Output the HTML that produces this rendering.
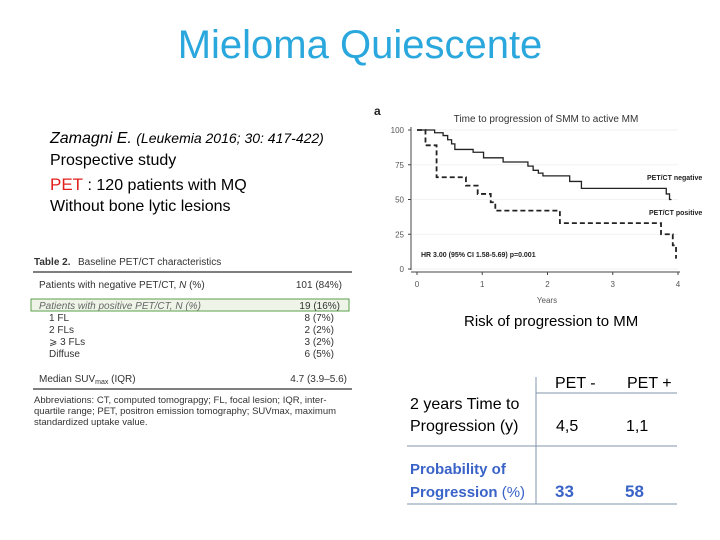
<!DOCTYPE html>
<html><head><meta charset="utf-8"><style>
body{margin:0;width:720px;height:540px;background:#fff;overflow:hidden;font-family:"Liberation Sans",sans-serif}
.a{position:absolute;white-space:nowrap}
</style></head><body>
<div style="position:relative;width:720px;height:540px">
<div class="a" style="left:0;width:720px;text-align:center;top:23px;font-size:40px;color:#2aa7dc">Mieloma Quiescente</div>
<div class="a" style="left:50px;top:130px;font-size:16px;color:#000"><i>Zamagni E.</i> <span style="font-size:14px"><i>(Leukemia 2016; 30: 417-422)</i></span></div>
<div class="a" style="left:50px;top:152px;font-size:16px">Prospective study</div>
<div class="a" style="left:50px;top:175px;font-size:16px"><span style="color:#e0201c;font-size:17px">PET</span> : 120 patients with MQ</div>
<div class="a" style="left:50px;top:198px;font-size:16px">Without bone lytic lesions</div>

<svg width="720" height="540" style="position:absolute;left:0;top:0">
 <g font-family="Liberation Sans" fill="#333">
  <text x="34" y="265" font-size="10" font-weight="bold">Table 2.</text>
  <text x="78" y="265" font-size="10">Baseline PET/CT characteristics</text>
  <line x1="33" y1="272" x2="352" y2="272" stroke="#333" stroke-width="1.3"/>
  <text x="39" y="288" font-size="10">Patients with negative PET/CT, <tspan font-style="italic">N</tspan> (%)</text>
  <text x="342" y="288" font-size="10" text-anchor="end">101 (84%)</text>
  <rect x="31" y="299" width="318" height="12" fill="#eef5e8" stroke="#5aa04a" stroke-width="1"/>
  <text x="39" y="309" font-size="10" font-style="italic" fill="#666">Patients with positive PET/CT, N (%)</text>
  <text x="340" y="309" font-size="10" text-anchor="end">19 (16%)</text>
  <text x="49" y="321" font-size="10">1 FL</text><text x="334" y="321" font-size="10" text-anchor="end">8 (7%)</text>
  <text x="49" y="333" font-size="10">2 FLs</text><text x="334" y="333" font-size="10" text-anchor="end">2 (2%)</text>
  <text x="49" y="345" font-size="10">⩾ 3 FLs</text><text x="334" y="345" font-size="10" text-anchor="end">3 (2%)</text>
  <text x="49" y="357" font-size="10">Diffuse</text><text x="334" y="357" font-size="10" text-anchor="end">6 (5%)</text>
  <text x="39" y="382" font-size="10">Median SUV<tspan font-size="7" dy="2">max</tspan><tspan dy="-2"> (IQR)</tspan></text>
  <text x="347" y="382" font-size="10" text-anchor="end">4.7 (3.9–5.6)</text>
  <line x1="33" y1="389" x2="352" y2="389" stroke="#333" stroke-width="1.3"/>
  <text x="34" y="403" font-size="9.5">Abbreviations: CT, computed tomograpgy; FL, focal lesion; IQR, inter-</text>
  <text x="34" y="414" font-size="9.5">quartile range; PET, positron emission tomography; SUVmax, maximum</text>
  <text x="34" y="425" font-size="9.5">standardized uptake value.</text>
 </g>
 <g id="km" font-family="Liberation Sans"></g>
 <g font-family="Liberation Sans" font-size="16">
  <line x1="536" y1="377" x2="536" y2="504" stroke="#7f94a8"/>
  <line x1="536" y1="393" x2="677" y2="393" stroke="#7f94a8"/>
  <line x1="407" y1="446" x2="677" y2="446" stroke="#7f94a8"/>
  <line x1="407" y1="504" x2="677" y2="504" stroke="#7f94a8"/>
  <text x="555" y="388" fill="#000">PET -</text>
  <text x="627" y="388" fill="#000">PET +</text>
  <text x="410" y="409" fill="#000">2 years Time to</text>
  <text x="410" y="431" fill="#000">Progression (y)</text>
  <text x="556" y="431" fill="#000">4,5</text>
  <text x="626" y="431" fill="#000">1,1</text>
  <text x="410" y="474" fill="#3a63c8" font-weight="bold" font-size="15">Probability of</text>
  <text x="410" y="497" fill="#3a63c8" font-size="15"><tspan font-weight="bold">Progression</tspan> (%)</text>
  <text x="555" y="497" fill="#3a63c8" font-weight="bold" font-size="17">33</text>
  <text x="625" y="497" fill="#3a63c8" font-weight="bold" font-size="17">58</text>
 </g>
</svg>
<div class="a" style="left:464px;top:313px;font-size:15px">Risk of progression to MM</div>
</div>
<script>
const negT=[0,0.27,0.4,0.47,0.53,0.58,0.86,1.02,1.32,1.7,1.78,1.86,1.93,2.34,2.52,3.82,3.87,3.9];
const negS=[100,98,96,93,90,86,84,80,77,74,71,69,67,63,58,54,50,50];
const posT=[0,0.13,0.3,0.75,0.93,1.13,1.2,2.19,3.74,3.92,3.97,3.98];
const posS=[100,89,66,60,54,48,42,33,25,17,8,8];
const yTicks=[0,25,50,75,100];
const xTicks=[0,1,2,3,4];
const NS='http://www.w3.org/2000/svg';
const g=document.getElementById('km');
const X=t=>417+t*(678-417)/4, Y=s=>269-s*(269-130)/100;
function mk(tag,at,txt){const e=document.createElementNS(NS,tag);for(const k in at)e.setAttribute(k,at[k]);if(txt!=null)e.textContent=txt;g.appendChild(e);return e;}
let e;
e=mk('text',{x:374,y:115,'font-size':12,'font-weight':'bold',fill:'#222'},'a');


e=mk('text',{x:546,y:122,'font-size':10,fill:'#333','text-anchor':'middle'},'Time to progression of SMM to active MM');


e=mk('line',{x1:411,y1:127,x2:411,y2:270,stroke:'#444'});


e=mk('line',{x1:411,y1:272,x2:680,y2:272,stroke:'#444'});


yTicks.forEach(v=>{mk('line',{x1:408,y1:Y(v),x2:411,y2:Y(v),stroke:'#444'});
 e=mk('text',{x:404,y:Y(v)+3,'font-size':8,fill:'#555','text-anchor':'end'},v);
 
 
 mk('line',{x1:412,y1:Y(v),x2:678,y2:Y(v),stroke:'#f2f2f2'});});
xTicks.forEach(v=>{mk('line',{x1:X(v),y1:272,x2:X(v),y2:275,stroke:'#444'});
 e=mk('text',{x:X(v),y:287,'font-size':8,fill:'#555','text-anchor':'middle'},v);
 
 });
e=mk('text',{x:547,y:303,'font-size':8,fill:'#555','text-anchor':'middle'},'Years');


function step(T,S){let d='M'+X(T[0])+','+Y(S[0]);for(let i=1;i<T.length;i++){d+='H'+X(T[i])+'V'+Y(S[i]);}return d;}
e=mk('path',{d:step(negT,negS),fill:'none',stroke:'#222','stroke-width':1.3});


e=mk('path',{d:step(posT,posS),fill:'none',stroke:'#222','stroke-width':1.8,'stroke-dasharray':'5,3'});


e=mk('text',{x:647,y:180,'font-size':7,'font-weight':'bold',fill:'#222'},'PET/CT negative');


e=mk('text',{x:649,y:215,'font-size':7,'font-weight':'bold',fill:'#222'},'PET/CT positive');


e=mk('text',{x:421,y:257,'font-size':7,'font-weight':'bold',fill:'#222'},'HR 3.00 (95% CI 1.58-5.69) p=0.001');


</script>
</body></html>
